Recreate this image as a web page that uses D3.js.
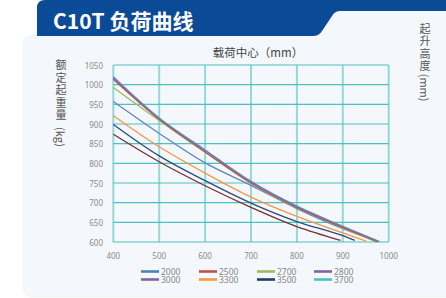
<!DOCTYPE html>
<html>
<head>
<meta charset="utf-8">
<script src="https://cdn.jsdelivr.net/npm/d3@7"></script>
<style>
  html, body { margin: 0; padding: 0; background: #ffffff; }
  svg { display: block; }
</style>
</head>
<body>
<div id="loadChart"></div>
<script>
// load centre (mm) where capacity was read
const loadCenters = [400, 500, 600, 700, 800, 900];
// lift heights (mm), one curve each
const liftHeights = ['2000', '2500', '2700', '2800', '3000', '3300', '3500', '3700'];
// rated capacity (kg) at each load centre
const capacities = [
  [1020, 915, 834, 754, 691, 640],
  [1014, 912, 829, 750, 688, 637],
  [993, 909, 828, 749, 687, 636],
  [1017, 913, 832, 752, 690, 638],
  [957, 876, 801, 744, 685, 634],
  [921, 842, 775, 714, 665, 623],
  [899, 819, 756, 699, 652, 616],
  [874, 804, 743, 688, 639, null]
];
// where each curve stops
const endCenters = [980, 975, 972, 978, 977, 951, 926, 895];
const endCapacities = [601, 601, 601, 601, 601, 602, 604, 604];

const lineColors = ['#5b86c5', '#c0504d', '#9bbb59', '#7f6fb0', '#5b86c5', '#f79646', '#2a4d7a', '#7a2e2e'];
const legendColors = ['#4f81bd', '#c0504d', '#9bbb59', '#8064a2', '#8064a2', '#f79646', '#1f3f6d', '#4bc3c3'];

const yTicks = d3.range(600, 1051, 50);
const xTicks = [400, 500, 600, 700, 800, 900, 1000];

const W = 446, H = 298;
const plot = { left: 113.3, right: 388.7, top: 65, bottom: 242 };

const svg = d3.select('#loadChart').append('svg')
  .attr('width', W).attr('height', H);

const defs = svg.append('defs');
const shadow = defs.append('filter').attr('id', 'panelShadow')
  .attr('x', '-10%').attr('y', '-10%').attr('width', '120%').attr('height', '120%');
shadow.append('feDropShadow')
  .attr('dx', 0).attr('dy', 0).attr('stdDeviation', 1.5)
  .attr('flood-color', '#b8c2cc').attr('flood-opacity', 0.45);

// panel
svg.append('rect')
  .attr('x', 24).attr('y', 36).attr('width', 440).attr('height', 260)
  .attr('rx', 8).attr('fill', '#f4f7fb')
  .attr('filter', 'url(#panelShadow)');
svg.append('rect')
  .attr('x', 37).attr('y', 0).attr('width', 420).attr('height', 40)
  .attr('fill', '#f4f7fb');

// header tab
svg.append('path')
  .attr('d', 'M37,36 L37,8 Q37,0 45,0 L446,0 L446,11 L340,11 Q335,11 332,16 L322,31 Q319,36 313,36 Z')
  .attr('fill', '#0b4a96');
svg.append('text')
  .attr('x', 53).attr('y', 28.5)
  .attr('fill', '#ffffff')
  .style('font-family', '"Noto Sans CJK SC", "Noto Sans", sans-serif')
  .style('font-weight', 700)
  .style('font-size', '21px')
  .text('C10T 负荷曲线');

const x = d3.scaleLinear().domain([400, 1000]).range([plot.left, plot.right]);
const y = d3.scaleLinear().domain([600, 1050]).range([plot.bottom, plot.top]);

// grid
const grid = svg.append('g');
grid.selectAll('line.v').data(xTicks).enter().append('line')
  .attr('class', 'v')
  .attr('x1', d => x(d)).attr('x2', d => x(d))
  .attr('y1', plot.top).attr('y2', plot.bottom)
  .attr('stroke', '#93d9da').attr('stroke-width', 2);
grid.selectAll('line.h').data(yTicks).enter().append('line')
  .attr('class', 'h')
  .attr('x1', plot.left).attr('x2', plot.right)
  .attr('y1', d => y(d)).attr('y2', d => y(d))
  .attr('stroke', '#4ec0c1').attr('stroke-width', 1.2);

// tick labels
const tickFont = '"Noto Sans", sans-serif';
svg.append('g').selectAll('text').data(yTicks).enter().append('text')
  .attr('x', 103).attr('y', d => y(d))
  .attr('text-anchor', 'end').attr('dominant-baseline', 'central')
  .attr('fill', '#8c8c8c')
  .style('font-family', tickFont).style('font-size', '8px')
  .text(d => d);
svg.append('g').selectAll('text').data(xTicks).enter().append('text')
  .attr('x', d => x(d)).attr('y', 255)
  .attr('text-anchor', 'middle').attr('dominant-baseline', 'central')
  .attr('fill', '#8c8c8c')
  .style('font-family', tickFont).style('font-size', '8px')
  .text(d => d);

// curves
const line = d3.line()
  .x(d => x(d[0])).y(d => y(d[1]))
  .curve(d3.curveMonotoneX);

const series = liftHeights.map((h, i) => {
  const pts = loadCenters
    .map((c, j) => [c, capacities[i][j]])
    .filter(p => p[1] != null && p[0] < endCenters[i]);
  pts.push([endCenters[i], endCapacities[i]]);
  return { h, pts, color: lineColors[i] };
});

// draw lower curves first so the top ones sit above
svg.append('g').selectAll('path').data(series.slice().reverse()).enter().append('path')
  .attr('d', d => line(d.pts))
  .attr('fill', 'none')
  .attr('stroke', d => d.color)
  .attr('stroke-width', 1.3);

// axis titles
const cjk = '"Noto Sans CJK SC", sans-serif';
svg.append('text')
  .attr('x', 258).attr('y', 52)
  .attr('text-anchor', 'middle').attr('dominant-baseline', 'central')
  .attr('fill', '#444')
  .style('font-family', cjk).style('font-size', '11.5px')
  .text('载荷中心（mm）');

// stacked vertical label: upright chars, then the unit turned sideways
function verticalLabel(cx, top, chars, unit, step) {
  const g = svg.append('g').attr('fill', '#555')
    .style('font-family', cjk).style('font-size', '11px');
  g.selectAll('text.ch').data(chars).enter().append('text')
    .attr('class', 'ch')
    .attr('x', cx).attr('y', (d, i) => top + i * step)
    .attr('text-anchor', 'middle').attr('dominant-baseline', 'central')
    .text(d => d);
  const uy = top + chars.length * step + 10;
  g.append('text')
    .attr('transform', `translate(${cx},${uy}) rotate(90)`)
    .attr('text-anchor', 'middle').attr('dominant-baseline', 'central')
    .text(unit);
}
verticalLabel(61, 64, ['额', '定', '起', '重', '量'], '(kg)', 12.6);
verticalLabel(425, 28, ['起', '升', '高', '度'], '(mm)', 12.4);

// legend
const legendX = [141, 199, 257, 314];
const legendY = [271.5, 279.5];
const legend = svg.append('g').selectAll('g').data(liftHeights).enter().append('g')
  .attr('transform', (d, i) => `translate(${legendX[i % 4]},${legendY[Math.floor(i / 4)]})`);
legend.append('line')
  .attr('x1', 0).attr('x2', 18).attr('y1', 0).attr('y2', 0)
  .attr('stroke', (d, i) => legendColors[i]).attr('stroke-width', 2.6);
legend.append('text')
  .attr('x', 20).attr('y', 0)
  .attr('dominant-baseline', 'central')
  .attr('fill', '#888')
  .style('font-family', tickFont).style('font-size', '8.5px')
  .text(d => d);
</script>
</body>
</html>
